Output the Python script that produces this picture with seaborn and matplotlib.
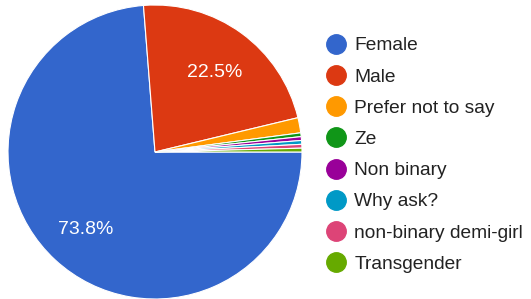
import matplotlib.pyplot as plt
import seaborn as sns
from matplotlib.lines import Line2D

# survey answers (counts read from the percentages)
labels = ["Female", "Male", "Prefer not to say", "Ze", "Non binary",
          "Why ask?", "non-binary demi-girl", "Transgender"]
counts = [177, 54, 4, 1, 1, 1, 1, 1]
colors = ["#3366CC", "#DC3912", "#FF9900", "#109618", "#990099",
          "#0099C6", "#DD4477", "#66AA00"]

sns.set_theme(style="white")
plt.rcParams["font.family"] = ["Liberation Sans", "DejaVu Sans"]

fig = plt.figure(figsize=(5.31, 2.99), dpi=100)
ax = fig.add_axes([8 / 531, 0.0, 294 / 531, 294 / 299])


def pct(p):
    return f"{p:.1f}%" if p > 5 else ""


wedges, texts, autotexts = ax.pie(
    counts, colors=colors, startangle=0, counterclock=False,
    autopct=pct, pctdistance=0.69,
    wedgeprops=dict(edgecolor="white", linewidth=0.8),
    textprops=dict(color="white", fontsize=14))
for t in autotexts:
    x, y = t.get_position()
    t.set_position((x, y - 0.02))
ax.set_xlim(-1.0, 1.0)
ax.set_ylim(-1.0, 1.0)
ax.axis("off")

handles = [Line2D([], [], marker="o", linestyle="", markersize=14,
                  markerfacecolor=c, markeredgecolor=c) for c in colors]
fig.legend(handles, labels, loc="upper left",
           bbox_to_anchor=(326 / 531, 1 - 37 / 299),
           frameon=False, fontsize=13.8, borderpad=0, borderaxespad=0,
           handlelength=1.0, handletextpad=0.48, labelspacing=0.72,
           labelcolor="#222222")

fig.savefig("out.png", dpi=100, facecolor="white")
